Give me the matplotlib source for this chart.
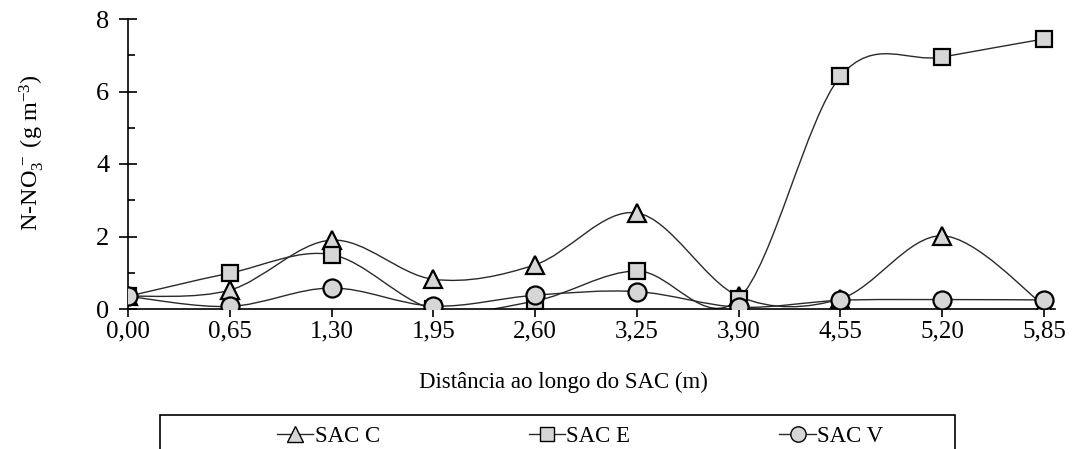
import numpy as np
import matplotlib
matplotlib.use("Agg")
import matplotlib.pyplot as plt
from matplotlib.path import Path
from matplotlib.patches import PathPatch, Rectangle
from matplotlib.lines import Line2D

plt.rcParams['font.family'] = ['Liberation Serif', 'DejaVu Serif']
plt.rcParams['mathtext.fontset'] = 'custom'
plt.rcParams['mathtext.rm'] = 'Liberation Serif'
plt.rcParams['mathtext.it'] = 'Liberation Serif:italic'

distancia = [0.00, 0.65, 1.30, 1.95, 2.60, 3.25, 3.90, 4.55, 5.20, 5.85]
tick_labels = ['0,00', '0,65', '1,30', '1,95', '2,60', '3,25', '3,90', '4,55', '5,20', '5,85']

sac_c = [0.35, 0.52, 1.90, 0.82, 1.22, 2.65, 0.35, 0.28, 2.02, 0.10]
sac_e = [0.35, 0.99, 1.50, 0.00, 0.22, 1.05, 0.28, 6.42, 6.95, 7.45]
sac_v = [0.35, 0.07, 0.58, 0.08, 0.38, 0.48, 0.05, 0.24, 0.26, 0.25]

FILL = '#d6d6d6'


def smooth_path(x, y):
    # bezier segments like a spreadsheet "smoothed line"
    x = np.asarray(x, float)
    y = np.asarray(y, float)
    n = len(x)
    verts = [(x[0], y[0])]
    codes = [Path.MOVETO]
    for i in range(n - 1):
        p0 = np.array([x[max(i - 1, 0)], y[max(i - 1, 0)]])
        p1 = np.array([x[i], y[i]])
        p2 = np.array([x[i + 1], y[i + 1]])
        p3 = np.array([x[min(i + 2, n - 1)], y[min(i + 2, n - 1)]])
        c1 = p1 + (p2 - p0) / 6.0
        c2 = p2 - (p3 - p1) / 6.0
        verts += [tuple(c1), tuple(c2), tuple(p2)]
        codes += [Path.CURVE4] * 3
    return Path(verts, codes)


fig = plt.figure(figsize=(10.76, 4.49), dpi=100)
ax = fig.add_axes([128 / 1076, 140 / 449, 927 / 1076, 290 / 449])

series = [(sac_c, '^', 'SAC C', 13), (sac_e, 's', 'SAC E', 12), (sac_v, 'o', 'SAC V', 13)]
handles = []
for vals, mk, lab, ms in series:
    ax.add_patch(PathPatch(smooth_path(distancia, vals), facecolor='none',
                           edgecolor='#2a2a2a', lw=1.0, zorder=2))
    ax.plot(distancia, vals, linestyle='none', marker=mk, ms=ms,
            mfc=FILL, mec='black', mew=1.6, zorder=3)
    handles.append(Line2D([], [], color='#2a2a2a', lw=1.0, marker=mk, ms=ms * 0.85,
                          mfc=FILL, mec='black', mew=1.0, label=lab))

ax.set_xlim(0, 5.92)
ax.set_ylim(0, 8)
ax.set_xticks(distancia)
ax.set_xticklabels(tick_labels)
ax.set_yticks([0, 2, 4, 6, 8])
ax.set_yticks([1, 3, 5, 7], minor=True)
for s in ('top', 'right'):
    ax.spines[s].set_visible(False)
for s in ('left', 'bottom'):
    ax.spines[s].set_linewidth(1.2)
ax.tick_params(axis='y', which='major', direction='inout', length=13, width=1.2,
               labelsize=19, pad=7)
ax.tick_params(axis='y', which='minor', direction='in', length=5, width=1.2)
ax.tick_params(axis='x', which='major', direction='out', length=6, width=1.2,
               labelsize=18, pad=2)

ax.set_xlabel('Distância ao longo do SAC (m)', fontsize=16.5)
ax.xaxis.set_label_coords(0.47, -0.215)
ax.set_ylabel(r'N-NO$_3^{\,-}$ (g m$^{-3}$)', fontsize=17.5)
ax.yaxis.set_label_coords(-0.088, 0.54)

# legend box runs off the bottom of the figure
fig.add_artist(Rectangle((160 / 1076, -0.2), 795 / 1076, 0.2 + 34 / 449,
                         transform=fig.transFigure, facecolor='white',
                         edgecolor='black', lw=1.2, clip_on=False))
fig.legend(handles=handles, loc='center', bbox_to_anchor=(580 / 1076, 1 - 436 / 449),
           ncol=3, frameon=False, fontsize=16.5, handlelength=1.6,
           handletextpad=0.05, columnspacing=6.5)

fig.savefig('out.png', dpi=100)
